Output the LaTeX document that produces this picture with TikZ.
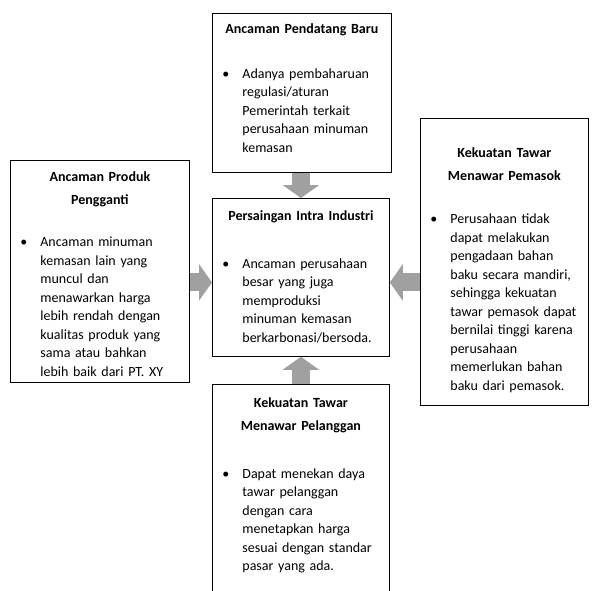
\documentclass[tikz,border=0pt]{standalone}
\usepackage{fontspec}
\setmainfont{Carlito}
\usetikzlibrary{arrows.meta}

\definecolor{panahabu}{RGB}{160,160,160}

% height, space above title, title, gap, bullet text
\newcommand{\isikotak}[5]{%
  \parbox[t][#1][t]{\linewidth}{%
    \vspace*{#2}%
    {\centering\bfseries\baselineskip=23pt #3\par}%
    \vspace{#4}%
    \hangindent=30pt\hangafter=1\noindent
    \hspace*{10pt}\makebox[20pt][l]{\textbullet}#5\par}}

\tikzset{
  kotak/.style={draw, line width=0.8pt, inner sep=0pt, anchor=north west,
    font=\fontsize{14}{18.5}\selectfont},
  panah/.style={line width=18pt, draw=panahabu,
    -{Triangle[width=36pt 0 0, length=13pt 0 0]}},
}

\begin{document}
\begin{tikzpicture}[x=1pt, y=-1pt]
            \useasboundingbox (0,0) rectangle (593,590);
            \clip (0,0) rectangle (593,590);
            % the five forces
            \node[kotak, text width=179pt] (pendatang) at (212,13)
                {\isikotak{159pt}{10pt}{Ancaman Pendatang Baru}{26.5pt}{Adanya pembaharuan\\regulasi/aturan\\Pemerintah terkait\\perusahaan minuman\\kemasan}};
            \node[kotak, text width=177pt] (intra) at (212,198)
                {\isikotak{158pt}{12pt}{Persaingan Intra Industri}{29.5pt}{Ancaman perusahaan\\besar yang juga\\memproduksi\\minuman kemasan\\berkarbonasi/bersoda.}};
            \node[kotak, text width=179pt] (pengganti) at (10,160)
                {\isikotak{222pt}{11pt}{Ancaman Produk\\Pengganti}{24pt}{Ancaman minuman\\kemasan lain yang\\muncul dan\\menawarkan harga\\lebih rendah dengan\\kualitas produk yang\\sama atau bahkan\\lebih baik dari PT. XY}};
            \node[kotak, text width=168pt] (pemasok) at (420,118)
                {\isikotak{287pt}{29pt}{Kekuatan Tawar\\Menawar Pemasok}{25pt}{Perusahaan tidak\\dapat melakukan\\pengadaan bahan\\baku secara mandiri,\\sehingga kekuatan\\tawar pemasok dapat\\bernilai tinggi karena\\perusahaan\\memerlukan bahan\\baku dari pemasok.}};
            \node[kotak, text width=177pt] (pelanggan) at (212,384)
                {\isikotak{230pt}{13pt}{Kekuatan Tawar\\Menawar Pelanggan}{29.5pt}{Dapat menekan daya\\tawar pelanggan\\dengan cara\\menetapkan harga\\sesuai dengan standar\\pasar yang ada.}};
            % block arrows into the middle
            \draw[panah] (pendatang.south -| intra.north) -- (intra.north);
            \draw[panah] (pelanggan.north) -- (intra.south);
            \draw[panah] ([yshift=-5pt]intra.west -| pengganti.east) -- ([yshift=-5pt]intra.west);
            \draw[panah] ([yshift=-5pt]intra.east -| pemasok.west) -- ([yshift=-5pt]intra.east);
        \end{tikzpicture}
\end{document}
